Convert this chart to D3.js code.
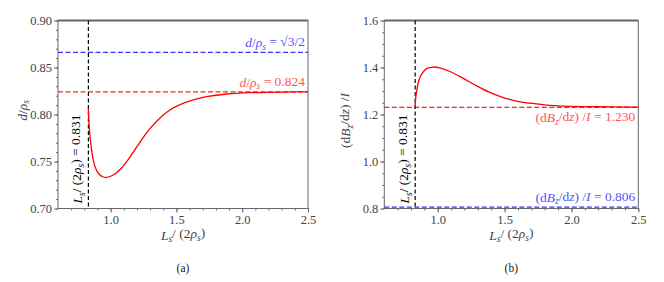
<!DOCTYPE html>
<html>
<head>
<meta charset="utf-8">
<script src="https://cdn.jsdelivr.net/npm/d3@7"></script>
<style>
  body { margin: 0; background: #fff; }
</style>
</head>
<body>
<div id="chart"></div>
<script>
// curve (a): d/rho_s against Ls/(2 rho_s)
var xA = [0.831, 0.834, 0.840, 0.850, 0.865, 0.885, 0.910, 0.940, 0.970, 1.000, 1.040, 1.080, 1.120, 1.160, 1.200, 1.250, 1.300, 1.375, 1.450, 1.527, 1.628, 1.730, 1.882, 2.059, 2.312, 2.5];
var yA = [0.8066, 0.795, 0.782, 0.768, 0.754, 0.743, 0.737, 0.7338, 0.7332, 0.7343, 0.7375, 0.7425, 0.7495, 0.7575, 0.7658, 0.7760, 0.7853, 0.7963, 0.8048, 0.8105, 0.8155, 0.8189, 0.8218, 0.8232, 0.8239, 0.8240];

// curve (b): (dBz/dz)/I against Ls/(2 rho_s)
var xB = [0.831, 0.833, 0.837, 0.842, 0.854, 0.879, 0.917, 0.967, 1.016, 1.091, 1.191, 1.291, 1.390, 1.490, 1.590, 1.690, 1.814, 1.939, 2.188, 2.5];
var yB = [1.230, 1.258, 1.280, 1.298, 1.336, 1.372, 1.395, 1.402, 1.398, 1.383, 1.354, 1.322, 1.294, 1.272, 1.257, 1.248, 1.240, 1.236, 1.233, 1.231];

var xTicks = [1.0, 1.5, 2.0, 2.5];
var yTicksA = [0.70, 0.75, 0.80, 0.85, 0.90];
var yTicksB = [0.8, 1.0, 1.2, 1.4, 1.6];
var xCrit = 0.831;
var refA = [0.824, Math.sqrt(3) / 2];
var refB = [1.230, 0.806];

var FONT = "Liberation Serif";

var svg = d3.select("#chart").append("svg")
    .attr("width", 664)
    .attr("height", 282);

var axisColor = "#666";
var textColor = "#444";

// write a math-like label from segments: [text, italic?, subscript?]
function mathText(t, segs) {
    var low = false;
    t.attr("font-family", FONT);
    segs.forEach(function(s){
        var sp = t.append("tspan").text(s[0]);
        if (s[1]) sp.style("font-style", "italic");
        if (s[2]) {
            sp.style("font-size", "0.7em");
            if (!low) sp.attr("dy", "0.25em");
            low = true;
        } else if (low) {
            sp.attr("dy", "-0.25em");
            low = false;
        }
    });
}

var lsSegs = [["L", 1], ["s", 1, 1], ["/ (2"], ["ρ", 1], ["s", 1, 1], [")"]];
var dSegs = [["d", 1], ["/"], ["ρ", 1], ["s", 1, 1]];
var gSegs = [["(d"], ["B", 1], ["z", 1, 1], ["/d"], ["z", 1], [") /"], ["I", 1]];

function drawPanel(cfg) {
    var g = svg.append("g")
        .attr("transform", "translate(" + cfg.left + ",20.5)");
    var w = cfg.width, h = 188;

    var x = d3.scaleLinear().domain([0.6, 2.5]).range([0, w]);
    var y = d3.scaleLinear().domain(cfg.yDomain).range([h, 0]);

    // minor ticks
    var xMinor = d3.range(7, 26).map(function(d){ return d / 10; });
    g.append("g")
        .attr("transform", "translate(0," + h + ")")
        .call(d3.axisBottom(x).tickValues(xMinor).tickSize(2).tickFormat(""))
        .call(function(a){ a.select(".domain").remove(); a.selectAll("line").attr("stroke", axisColor); });
    g.append("g")
        .call(d3.axisLeft(y).tickValues(cfg.yMinor).tickSize(2).tickFormat(""))
        .call(function(a){ a.select(".domain").remove(); a.selectAll("line").attr("stroke", axisColor); });

    // major ticks
    g.append("g")
        .attr("transform", "translate(0," + h + ")")
        .call(d3.axisBottom(x).tickValues(xTicks).tickSize(4).tickPadding(3).tickFormat(d3.format(".1f")))
        .call(function(a){
            a.attr("font-family", FONT).attr("font-size", 12.5);
            a.select(".domain").remove();
            a.selectAll("line").attr("stroke", axisColor);
            a.selectAll("text").attr("fill", textColor);
        });
    g.append("g")
        .call(d3.axisLeft(y).tickValues(cfg.yTicks).tickSize(4).tickPadding(2).tickFormat(d3.format(cfg.yFormat)))
        .call(function(a){
            a.attr("font-family", FONT).attr("font-size", 12.5);
            a.select(".domain").remove();
            a.selectAll("line").attr("stroke", axisColor);
            a.selectAll("text").attr("fill", textColor);
        });

    // frame
    g.append("rect")
        .attr("width", w).attr("height", h)
        .attr("fill", "none").attr("stroke", axisColor).attr("stroke-width", 1);
    g.append("line")
        .attr("x1", 0).attr("x2", w).attr("y1", 0).attr("y2", 0)
        .attr("stroke", axisColor).attr("stroke-width", 2);

    // reference lines
    cfg.refs.forEach(function(r){
        g.append("line")
            .attr("x1", 0).attr("x2", w)
            .attr("y1", y(r.v)).attr("y2", y(r.v))
            .attr("stroke", r.color).attr("stroke-width", 1.2)
            .attr("stroke-dasharray", "5,2.5");
    });

    // critical vertical line
    g.append("line")
        .attr("x1", x(xCrit)).attr("x2", x(xCrit))
        .attr("y1", 0).attr("y2", h)
        .attr("stroke", "#000").attr("stroke-width", 1.2)
        .attr("stroke-dasharray", "4,2.5");

    // curve
    var pts = cfg.xs.map(function(d, i){ return [d, cfg.ys[i]]; });
    var line = d3.line()
        .x(function(d){ return x(d[0]); })
        .y(function(d){ return y(d[1]); })
        .curve(d3.curveCatmullRom.alpha(0.5));
    g.append("path")
        .datum(pts)
        .attr("d", line)
        .attr("fill", "none")
        .attr("stroke", "#ff0000")
        .attr("stroke-width", 1.3);

    // annotation labels
    cfg.refs.forEach(function(r){
        var t = g.append("text")
            .attr("x", w - 3).attr("y", y(r.v) + r.dy)
            .attr("text-anchor", "end")
            .attr("fill", r.textColor)
            .attr("font-size", 13.5);
        mathText(t, r.segs);
    });

    // vertical annotation
    var vt = g.append("text")
        .attr("transform", "translate(" + (x(xCrit) - 6) + "," + (h - 5) + ") rotate(-90)")
        .attr("fill", "#000")
        .attr("font-size", 13.5);
    mathText(vt, lsSegs.concat([[" = 0.831"]]));

    // x label
    var xl = g.append("text")
        .attr("x", w / 2).attr("y", h + 31)
        .attr("text-anchor", "middle")
        .attr("fill", textColor)
        .attr("font-size", 13.5);
    mathText(xl, lsSegs);

    // y label
    var yl = g.append("text")
        .attr("transform", "translate(" + cfg.yLabelX + "," + cfg.yLabelY + ") rotate(-90)")
        .attr("text-anchor", "middle")
        .attr("fill", textColor)
        .attr("font-size", 13.5);
    mathText(yl, cfg.yLabel);

    // panel tag
    g.append("text")
        .attr("x", w / 2).attr("y", 251)
        .attr("text-anchor", "middle")
        .attr("fill", "#222")
        .attr("font-family", FONT)
        .attr("font-size", 11.5)
        .text(cfg.tag);
}

drawPanel({
    left: 58, width: 250,
    yDomain: [0.70, 0.90], yTicks: yTicksA, yFormat: ".2f",
    yMinor: d3.range(70, 91).map(function(d){ return d / 100; }),
    xs: xA, ys: yA,
    yLabelX: -31, yLabelY: 90,
    yLabel: dSegs,
    tag: "(a)",
    refs: [
        { v: refA[1], color: "#3333ff", textColor: "#5555ff", dy: -5,
          segs: dSegs.concat([[" = √3/2"]]) },
        { v: refA[0], color: "#ff2222", textColor: "#ff5555", dy: -5,
          segs: dSegs.concat([[" = 0.824"]]) }
    ]
});

drawPanel({
    left: 384.3, width: 254,
    yDomain: [0.8, 1.6], yTicks: yTicksB, yFormat: ".1f",
    yMinor: d3.range(16, 33).map(function(d){ return d / 20; }),
    xs: xB, ys: yB,
    yLabelX: -34, yLabelY: 100,
    yLabel: gSegs,
    tag: "(b)",
    refs: [
        { v: refB[0], color: "#ff2222", textColor: "#ff5555", dy: 15,
          segs: gSegs.concat([[" = 1.230"]]) },
        { v: refB[1], color: "#3333ff", textColor: "#5555ff", dy: -5,
          segs: gSegs.concat([[" = 0.806"]]) }
    ]
});
</script>
</body>
</html>
